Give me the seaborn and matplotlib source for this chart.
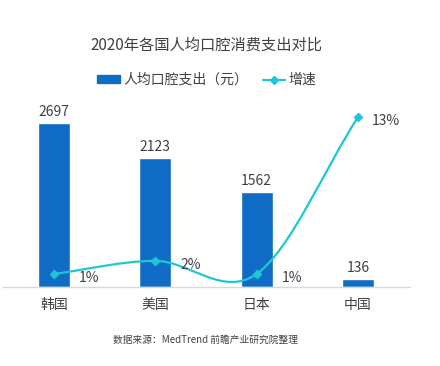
import numpy as np
import pandas as pd
import matplotlib
matplotlib.use("Agg")
import matplotlib.pyplot as plt
import seaborn as sns
from matplotlib.path import Path
from matplotlib.patches import PathPatch, Patch
from matplotlib.lines import Line2D

countries = ["韩国", "美国", "日本", "中国"]
spend = [2697, 2123, 1562, 136]
growth = [1, 2, 1, 13]
growth_labels = ["1%", "2%", "1%", "13%"]

sns.set_theme(style="white")
plt.rcParams['font.family'] = ['Noto Sans CJK SC', 'DejaVu Sans']

bar_color = "#106bc4"
line_color = "#1fc6d6"
text_color = "#404040"

df = pd.DataFrame({"country": countries, "spend": spend})

fig = plt.figure(figsize=(4.4, 3.66), dpi=100)
ax = fig.add_axes([3 / 440, 79 / 366, 407 / 440, 177 / 366])
sns.barplot(data=df, x="country", y="spend", color=bar_color, width=0.316,
            saturation=1, ax=ax)
ax.set_xlim(-0.503, 3.513)
ax.set_ylim(0, 2911)
ax.set_xlabel("")
ax.set_ylabel("")
ax.set_yticks([])
ax.tick_params(axis="x", length=0, labelsize=10, labelcolor=text_color, pad=8)
for s in ["top", "right", "left"]:
    ax.spines[s].set_visible(False)
ax.spines["bottom"].set_color("#d9d9d9")
ax.spines["bottom"].set_linewidth(1)
for i, v in enumerate(spend):
    ax.text(i, v + 60, str(v), ha="center", va="bottom", fontsize=10,
            color=text_color)

ax2 = ax.twinx()
ax2.set_ylim(0, 13.54)
ax2.set_yticks([])
for s in ["top", "right", "left", "bottom"]:
    ax2.spines[s].set_visible(False)

# smooth curve through the points (cardinal spline as bezier segments)
xs = np.arange(len(growth), dtype=float)
ys = np.array(growth, dtype=float)
tang = np.zeros_like(ys)
tang[0] = ys[1] - ys[0]
tang[-1] = ys[-1] - ys[-2]
tang[1:-1] = (ys[2:] - ys[:-2]) / 2
verts = [(xs[0], ys[0])]
codes = [Path.MOVETO]
for i in range(len(xs) - 1):
    verts += [(xs[i] + 1 / 3, ys[i] + tang[i] / 3),
              (xs[i + 1] - 1 / 3, ys[i + 1] - tang[i + 1] / 3),
              (xs[i + 1], ys[i + 1])]
    codes += [Path.CURVE4] * 3
ax2.add_patch(PathPatch(Path(verts, codes), fill=False, edgecolor=line_color,
                        linewidth=1.6))
sns.scatterplot(x=xs, y=ys, marker="D", s=22, color=line_color,
                edgecolor=line_color, ax=ax2, zorder=5)
for i, (v, lab) in enumerate(zip(growth, growth_labels)):
    dx = 10 if i == len(growth) - 1 else 18
    ax2.annotate(lab, (i, v), xytext=(dx, -3), textcoords="offset points",
                 ha="left", va="center", fontsize=10, color=text_color)

fig.text(206 / 440, 1 - 45 / 366, "2020年各国人均口腔消费支出对比",
         ha="center", va="center", fontsize=11, color=text_color)
handles = [Patch(facecolor=bar_color, edgecolor=bar_color),
           Line2D([], [], color=line_color, marker="D", markersize=4,
                  linewidth=1.6)]
leg = fig.legend(handles, ["人均口腔支出（元）", "增速"], loc="center",
                 bbox_to_anchor=(207 / 440, 1 - 80 / 366), ncol=2, frameon=False,
                 fontsize=10, handlelength=1.6, handleheight=0.45,
                 handletextpad=0.3, columnspacing=1.0)
for t in leg.get_texts():
    t.set_color(text_color)
fig.text(205 / 440, 1 - 340 / 366, "数据来源：MedTrend 前瞻产业研究院整理",
         ha="center", va="center", fontsize=7, color=text_color)

fig.savefig("out.png", dpi=100, facecolor="white")
